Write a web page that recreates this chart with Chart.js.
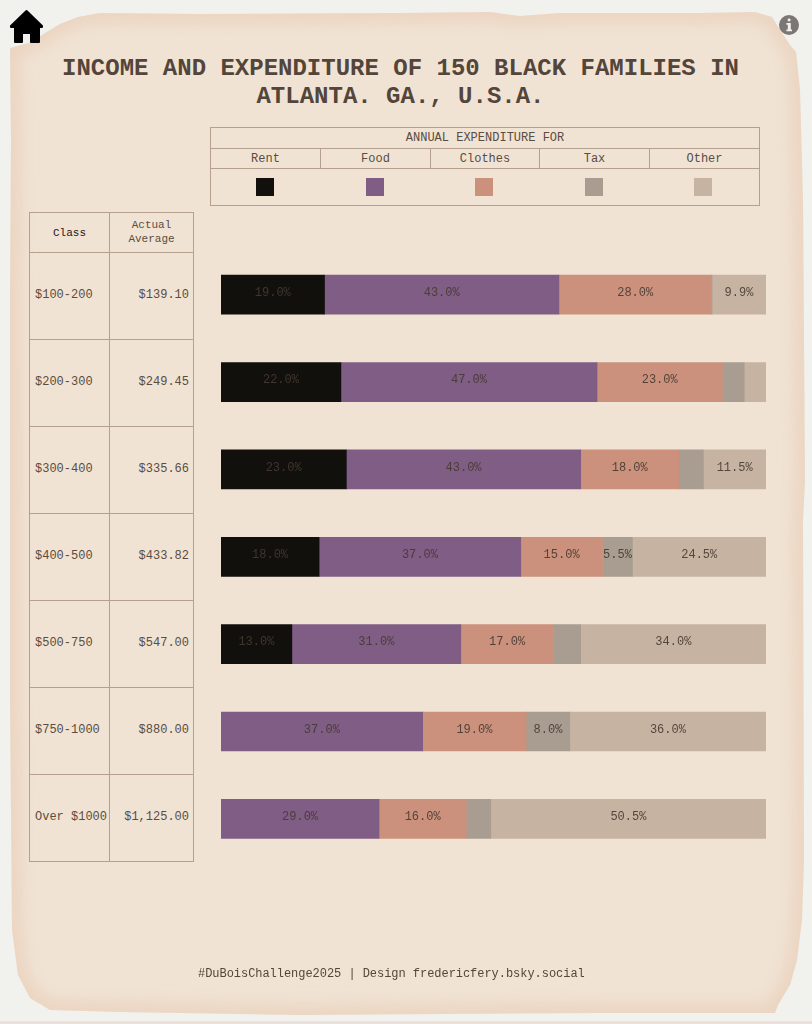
<!DOCTYPE html>
<html><head><meta charset="utf-8">
<script src="https://cdn.jsdelivr.net/npm/chart.js@4"></script>
<style>
html,body{margin:0;padding:0;width:812px;height:1024px;overflow:hidden;background:#f1f1ee;font-family:"Liberation Mono",monospace;color:#5a4c40}
#strip{position:absolute;left:0;top:1021px;width:812px;height:3px;background:#eddfda}
h1{position:absolute;left:0;top:55px;width:801px;margin:0;font-size:24px;line-height:28px;font-weight:700;text-align:center;color:#54453a}
table{position:absolute;border-collapse:collapse;table-layout:fixed;font-size:12px}
td{border:1px solid #b4a08c;padding:0;text-align:center;overflow:hidden;white-space:nowrap}
#legend{left:210px;top:127px;width:549px}
#side{left:29px;top:212px;width:164px}
#side td.c{text-align:left;padding-left:5px;padding-bottom:2px}
#side td.v{text-align:right;padding-right:4px;padding-bottom:2px}
#side .h1{font-size:11px;color:#1d1813}
#side .h2{font-size:11px;line-height:14px;white-space:normal;padding-bottom:2px}
.sw{display:inline-block;width:18px;height:18px;vertical-align:middle;position:relative;left:-1px}
#foot{position:absolute;left:198px;top:967px;font-size:12px;line-height:14px;white-space:pre;color:#54463a;letter-spacing:-0.04px}
canvas{position:absolute;left:0;top:0}
#wrap{position:absolute;left:0;top:0;width:812px;height:1024px}
svg{position:absolute}
</style></head><body>
<svg style="left:0;top:0" width="812" height="1024" viewBox="0 0 812 1024">
 <defs>
  <path id="sheet" d="M10 48L32 42L45 33L60 24L78 17L100 13L200 14L400 13L490 12L520 16L560 13L700 13L755 12L772 17L780 30L790 45L796 52L800 90L803 200L805 480L803 520L804 860L802 920L797 960L790 985L778 1005L775 1013L600 1013L300 1015L120 1012L50 1010L30 998L18 975L12 930L10 700L10 300L11 140Z"/>
  <clipPath id="cp"><use href="#sheet"/></clipPath>
  <filter id="bl" x="-5%" y="-5%" width="110%" height="110%"><feGaussianBlur stdDeviation="8"/></filter>
 </defs>
 <use href="#sheet" fill="#f0e3d4"/>
 <g clip-path="url(#cp)"><use href="#sheet" fill="none" stroke="#e9cfba" stroke-opacity="0.75" stroke-width="20" filter="url(#bl)"/></g>
</svg>
<div id="strip"></div>
<h1>INCOME AND EXPENDITURE OF 150 BLACK FAMILIES IN<br>ATLANTA. GA., U.S.A.</h1>
<table id="legend"></table>
<table id="side"></table>
<div id="wrap"><canvas id="c" width="812" height="1024"></canvas></div>
<div id="foot">#DuBoisChallenge2025 | Design fredericfery.bsky.social</div>
<svg style="left:9px;top:9px" width="36" height="36" viewBox="0 0 36 36"><path fill="#000" stroke="#000" stroke-width="2" stroke-linejoin="round" d="M17.5 2 L33 17 L33 18 L30 18 L30 33 L22 33 L22 24 L13 24 L13 33 L6 33 L6 18 L2 18 L2 17 Z"/></svg>
<svg style="left:779px;top:15px" width="20" height="20" viewBox="0 0 20 20"><circle cx="10" cy="10" r="10" fill="#7b7774"/><rect x="8.6" y="3.5" width="3" height="3" rx="1.4" fill="#f0f0ed"/><path fill="#f0f0ed" d="M7.4 8h4.4v6.4h1.2v1.8H7.4v-1.8h1.4V9.8H7.4z"/></svg>
<script>
const classes = ["$100-200","$200-300","$300-400","$400-500","$500-750","$750-1000","Over $1000"];
const averages = ["$139.10","$249.45","$335.66","$433.82","$547.00","$880.00","$1,125.00"];
const seriesNames = ["Rent","Food","Clothes","Tax","Other"];
const seriesColors = ["#11100c","#7f5d84","#cb917c","#a89d90","#c7b3a1"];
const rent = [19,22,23,18,13,null,null];
const food = [43,47,43,37,31,37,29];
const clothes = [28,23,18,15,17,19,16];
const tax = [0.1,4,4.5,5.5,5,8,4.5];
const other = [9.9,4,11.5,24.5,34,36,50.5];
const seriesValues = [rent,food,clothes,tax,other];
const colWidths = [110,110,109,110,110];

let lg = '<colgroup>'+colWidths.map(w=>'<col style="width:'+w+'px">').join('')+'</colgroup>';
lg += '<tr style="height:21px"><td colspan="5">ANNUAL EXPENDITURE FOR</td></tr>';
lg += '<tr style="height:20px">'+seriesNames.map(n=>'<td>'+n+'</td>').join('')+'</tr>';
lg += '<tr style="height:37px">'+seriesColors.map((c,i)=>'<td style="'+(i>0?'border-left:0;':'')+(i<4?'border-right:0;':'')+'"><span class="sw" style="background:'+c+'"></span></td>').join('')+'</tr>';
document.getElementById('legend').innerHTML = lg;

let sd = '<colgroup><col style="width:80px"><col style="width:84px"></colgroup>';
sd += '<tr style="height:40px"><td class="h1">Class</td><td class="h2">Actual<br>Average</td></tr>';
classes.forEach((c,i)=>{ sd += '<tr style="height:87px"><td class="c">'+c+'</td><td class="v">'+averages[i]+'</td></tr>'; });
document.getElementById('side').innerHTML = sd;

const valueLabels = {
  id:'valueLabels',
  afterDatasetsDraw(chart){
    const ctx = chart.ctx;
    ctx.save();
    ctx.font = '12px "Liberation Mono", monospace';
    ctx.textAlign = 'center';
    ctx.textBaseline = 'middle';
    ctx.fillStyle = 'rgba(70,58,50,0.9)';
    chart.data.datasets.forEach((ds,d)=>{
      chart.getDatasetMeta(d).data.forEach((bar,i)=>{
        const v = ds.data[i];
        if(v !== null && v >= 5.5){
          const p = bar.getProps(['x','base','y'],true);
          ctx.fillText(v.toFixed(1)+'%', (p.x+p.base)/2, p.y-2);
        }
      });
    });
    ctx.restore();
  }
};

new Chart(document.getElementById('c'),{
  type:'bar',
  data:{labels:classes,datasets:seriesNames.map((n,i)=>({label:n,data:seriesValues[i],backgroundColor:seriesColors[i],borderWidth:0,barThickness:39}))},
  options:{
    indexAxis:'y',responsive:false,animation:false,
    layout:{padding:{left:221,right:46,top:251,bottom:161.4}},
    plugins:{legend:{display:false},tooltip:{enabled:false},title:{display:false}},
    scales:{
      x:{stacked:true,min:0,max:100,display:false},
      y:{stacked:true,display:false}
    }
  },
  plugins:[valueLabels]
});
</script>
</body></html>
